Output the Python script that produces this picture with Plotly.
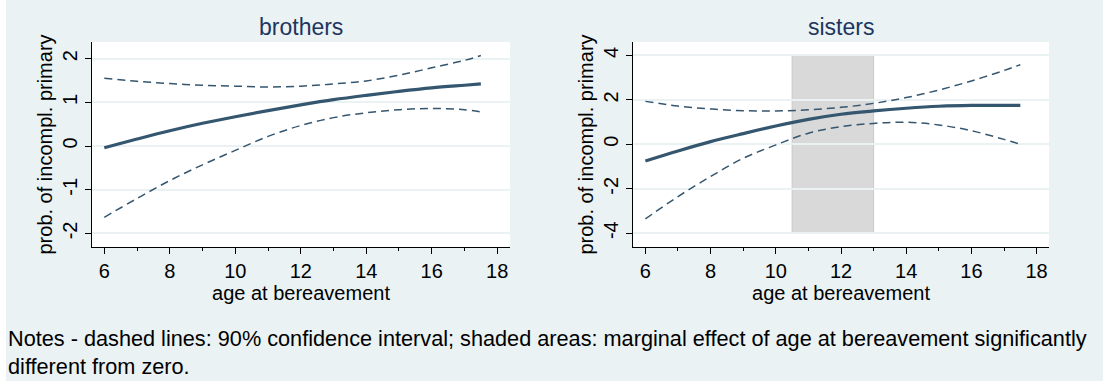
import plotly.graph_objects as go

# ---- data ----
ages_b = [6, 7, 8, 9, 10, 11, 12, 13, 14, 15, 16, 17, 17.5]
mean_b = [-0.04, 0.16, 0.35, 0.52, 0.67, 0.81, 0.94, 1.06, 1.16, 1.25, 1.33, 1.39, 1.42]
upper_b = [1.55, 1.48, 1.43, 1.39, 1.37, 1.35, 1.37, 1.42, 1.49, 1.62, 1.79, 1.96, 2.07]
lower_b = [-1.63, -1.2, -0.79, -0.43, -0.1, 0.22, 0.47, 0.65, 0.76, 0.83, 0.86, 0.83, 0.78]

ages_s = [6, 7, 8, 9, 10, 11, 12, 13, 14, 15, 16, 17, 17.5]
mean_s = [-0.75, -0.3, 0.12, 0.48, 0.82, 1.12, 1.35, 1.5, 1.62, 1.71, 1.75, 1.75, 1.75]
upper_s = [1.93, 1.72, 1.59, 1.51, 1.5, 1.55, 1.66, 1.84, 2.1, 2.44, 2.85, 3.32, 3.58]
lower_s = [-3.36, -2.35, -1.45, -0.63, -0.03, 0.5, 0.79, 0.94, 0.99, 0.87, 0.61, 0.22, 0.0]

sig_region_s = [10.5, 13]   # shaded: significant marginal effect (sisters)
sig_ylim_s = [-4, 4]

x_ticks = [6, 8, 10, 12, 14, 16, 18]
x_minor = [7, 9, 11, 13, 15, 17]
y_ticks_b = [-2, -1, 0, 1, 2]
y_ticks_s = [-4, -2, 0, 2, 4]

panel_titles = ["brothers", "sisters"]
xlabel = "age at bereavement"
ylabel = "prob. of incompl. primary"
note = ("Notes - dashed lines: 90% confidence interval; shaded areas: marginal effect of age at "
        "bereavement significantly<br>different from zero.")

W, H = 1103, 381
LINE = "#34566f"
BG = "#eaf2f3"
FONT = "Liberation Sans, Arial, sans-serif"
AX_FS = 20
TITLE_FS = 23
NOTE_FS = 21.7

fig = go.Figure()

def add_panel(xs, m, u, l, xa, ya):
    for band in (u, l):
        fig.add_trace(go.Scatter(x=xs, y=band, mode="lines",
                                 line=dict(color=LINE, width=1.5, dash="8px,5px", shape="spline"),
                                 xaxis=xa, yaxis=ya, showlegend=False))
    fig.add_trace(go.Scatter(x=xs, y=m, mode="lines",
                             line=dict(color=LINE, width=3.2, shape="spline"),
                             xaxis=xa, yaxis=ya, showlegend=False))

add_panel(ages_b, mean_b, upper_b, lower_b, "x", "y")
add_panel(ages_s, mean_s, upper_s, lower_s, "x2", "y2")

fig.add_shape(type="rect", xref="x2", yref="y2", x0=sig_region_s[0], x1=sig_region_s[1],
              y0=sig_ylim_s[0], y1=sig_ylim_s[1], fillcolor="#d9d9d9",
              line=dict(color="#c8c8c8", width=1), layer="below")

# white strip on the left edge
fig.add_shape(type="rect", xref="paper", yref="paper", x0=0, x1=6 / W, y0=0, y1=1,
              fillcolor="white", line=dict(width=0), layer="below")

def px_x(a, b):
    return [a / W, b / W]

def px_y(top, bottom):
    return [1 - bottom / H, 1 - top / H]

def lbl(v):
    return str(v) if v >= 0 else "-" + str(-v)

tf = dict(size=AX_FS, color="black", family=FONT)
common_x = dict(showgrid=False, zeroline=False, showline=True, linecolor="black", linewidth=1.2,
                ticks="outside", ticklen=6, tickcolor="black", tickwidth=1.2,
                tickvals=x_ticks, ticktext=[lbl(v) for v in x_ticks],
                minor=dict(tickvals=x_minor, ticks="outside", ticklen=3,
                           tickcolor="black", tickwidth=1.2),
                tickfont=tf, title=dict(text=xlabel, font=tf, standoff=0))
common_y = dict(showgrid=True, gridcolor=BG, gridwidth=1.5, zeroline=False, showline=True,
                linecolor="black", linewidth=1.2, ticks="outside", ticklen=6, tickcolor="black",
                tickwidth=1.2, tickangle=-90, tickfont=tf,
                title=dict(text=ylabel, font=tf, standoff=0))

fig.update_layout(
    width=W, height=H, margin=dict(l=0, r=0, t=0, b=0),
    paper_bgcolor=BG, plot_bgcolor="white",
    font=dict(family=FONT),
    xaxis=dict(domain=px_x(92, 510), range=[5.625, 18.39], anchor="y", **common_x),
    yaxis=dict(domain=px_y(42, 247), range=[-2.31, 2.38], anchor="x",
               tickvals=y_ticks_b, ticktext=[lbl(v) for v in y_ticks_b], **common_y),
    xaxis2=dict(domain=px_x(633, 1049), range=[5.62, 18.38], anchor="y2", **common_x),
    yaxis2=dict(domain=px_y(42, 247), range=[-4.62, 4.6], anchor="x2",
                tickvals=y_ticks_s, ticktext=[lbl(v) for v in y_ticks_s], **common_y),
    showlegend=False,
)

for title, (a, b) in zip(panel_titles, [(92, 510), (633, 1049)]):
    fig.add_annotation(text=title, x=(a + b) / 2 / W, y=1 - 27 / H, xref="paper", yref="paper",
                       xanchor="center", yanchor="middle", showarrow=False,
                       font=dict(size=TITLE_FS, color="#1e3560", family=FONT))

fig.add_annotation(text=note, x=6 / W, y=1 - 352 / H, xref="paper", yref="paper",
                   xanchor="left", yanchor="middle", align="left", showarrow=False,
                   font=dict(size=NOTE_FS, color="black", family=FONT))

fig.write_html("out.html", config={"displayModeBar": False},
               post_script="document.body.style.margin='0';document.body.style.padding='0';")
